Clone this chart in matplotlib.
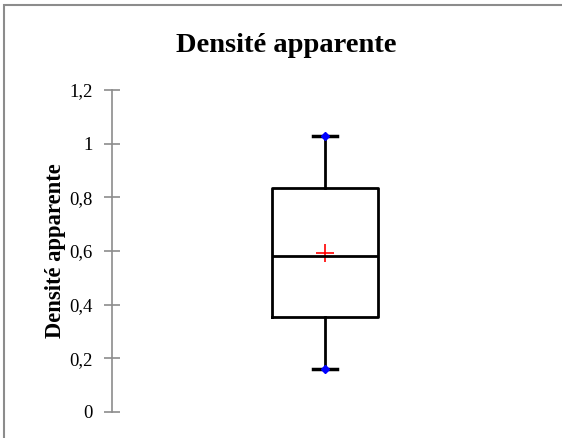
import matplotlib
matplotlib.use("Agg")
from matplotlib import pyplot as plt
from matplotlib.patches import Rectangle

# box plot statistics
title = "Densité apparente"
q1 = 0.354
median = 0.581
q3 = 0.835
whis_low = 0.160
whis_high = 1.03
mean = 0.592
yticks = [0, 0.2, 0.4, 0.6, 0.8, 1.0, 1.2]
ytick_labels = ["0", "0,2", "0,4", "0,6", "0,8", "1", "1,2"]

plt.rcParams['font.family'] = ['Liberation Serif', 'DejaVu Serif']

fig = plt.figure(figsize=(5.62, 4.38), dpi=100)
ax = fig.add_axes([112 / 562, 26 / 438, 426 / 562, 322 / 438])

stats = [{
    'med': median, 'q1': q1, 'q3': q3,
    'whislo': whis_low, 'whishi': whis_high, 'mean': mean,
}]
ax.bxp(stats, positions=[1], widths=0.498, showfliers=False, showmeans=False,
       boxprops=dict(color='black', linewidth=2),
       medianprops=dict(color='black', linewidth=2),
       whiskerprops=dict(color='black', linewidth=2),
       capprops=dict(color='black', linewidth=2.5),
       capwidths=0.113)
ax.plot([1], [mean], marker='+', color='red', markersize=13, mew=1.2, ls='none')
ax.plot([1, 1], [whis_low, whis_high], marker='D', color='blue', markersize=4.5,
        ls='none', zorder=5)

ax.set_xlim(0, 2)
ax.set_ylim(0, 1.2)
ax.set_yticks(yticks)
ax.set_yticklabels(ytick_labels, fontsize=13.5)
ax.set_xticks([])
for s in ['top', 'right', 'bottom']:
    ax.spines[s].set_visible(False)
ax.spines['left'].set_color('#8c8c8c')
ax.spines['left'].set_linewidth(1.2)
ax.tick_params(axis='y', direction='inout', length=12, width=1.2, color='#8c8c8c', pad=8)

fig.text(55 / 562, 1 - 251 / 438, title, rotation=90, ha='center', va='center',
         fontsize=16.3, fontweight='bold')
fig.text(286 / 562, 1 - 52 / 438, title, ha='center', va='baseline',
         fontsize=20.5, fontweight='bold')

# outer chart border (only top and left visible in crop)
fig.patches.append(Rectangle((4 / 562, -0.1), 1.2, 1 - 5 / 438 + 0.1,
                             transform=fig.transFigure, fill=False,
                             edgecolor='#8c8c8c', linewidth=1.5))

plt.savefig('out.png', dpi=100)
plt.close()
